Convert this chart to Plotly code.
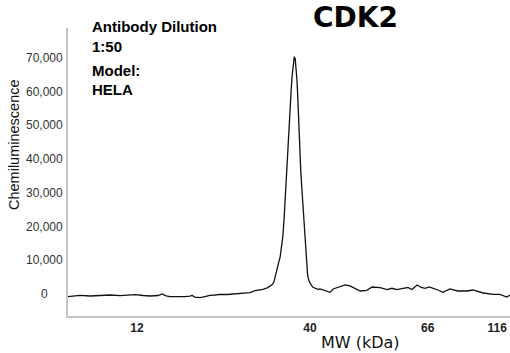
import plotly.graph_objects as go

# Relative migration position (% of lane length) and chemiluminescence signal
position = [0.0, 2.7, 5.0, 7.2, 9.5, 11.8, 13.5, 15.2, 17.0, 18.6, 20.4, 21.3, 22.2, 23.1,
            25.0, 26.5, 27.6, 28.1, 28.7, 29.9, 31.0, 32.1, 33.3, 34.4, 36.0, 37.3, 38.9,
            40.0, 41.2, 42.3, 43.2, 44.1, 45.2, 46.15, 46.6, 46.9, 47.3, 47.6, 48.0, 48.3,
            48.6, 48.9, 49.1, 49.3, 49.5, 49.8, 50.0, 50.2, 50.5, 50.7, 51.0, 51.2, 51.4,
            51.6, 51.8, 51.95, 52.1, 52.3, 52.5, 52.65, 52.85, 53.05, 53.25, 53.4, 53.6,
            53.85, 54.0, 54.2, 54.4, 54.75, 55.4, 56.6, 57.0, 58.1, 59.3, 60.0, 61.5, 62.7,
            63.8, 64.5, 66.1, 67.6, 68.8, 70.6, 72.2, 73.3, 74.4, 75.8, 76.9, 77.8, 79.0,
            79.9, 80.8, 81.7, 82.6, 83.7, 84.8, 86.4, 88.2, 90.3, 91.6, 93.9, 96.2, 97.7,
            99.3, 100.0]
signal = [-800, -400, -600, -500, -300, -500, -350, -200, -450, -600, -450, 0, -550, -800,
          -750, -800, -600, -400, -900, -1100, -750, -400, -300, -100, -150, 0, 50,
          200, 400, 1000, 1200, 1400, 1900, 2700, 3600, 5000, 7100, 9000, 11000, 14000,
          17000, 22500, 27500, 33000, 39000, 45500, 50500, 55000, 60700, 64500, 68500, 70400, 69800,
          67000, 63500, 59500, 53500, 45800, 41000, 36900, 32500, 28500, 24000, 20000, 15000,
          10500, 7800, 5800, 4400, 3200, 2000, 1400, 1490, 1040, 500, 1490, 2230, 2680,
          2380, 1870, 890, 1100, 2080, 1870, 1280, 1700, 1280, 1700, 1930, 1340, 2680,
          1930, 1700, 2080, 1700, 1190, 500, 1490, 890, 890, 1190, 300, -100, -100,
          -900, -300]

mw_labels = ["12", "40", "66", "116"]
mw_positions = [15.6, 54.75, 81.4, 97.1]

y_ticks = [0, 10000, 20000, 30000, 40000, 50000, 60000, 70000]
y_tick_labels = ["0", "10,000", "20,000", "30,000", "40,000", "50,000", "60,000", "70,000"]

info_lines = ["Antibody Dilution", "1:50", "Model:", "HELA"]

fig = go.Figure()
fig.add_trace(go.Scatter(x=position, y=signal, mode="lines",
                         line=dict(color="#111111", width=1.3), showlegend=False))

W, H = 510, 353
L, R, T, B = 68, 0, 28, 37
pw = W - L - R
ph = H - T - B

annotations = []
for v, t in zip(y_ticks, y_tick_labels):
    annotations.append(dict(x=-24 / pw, xref="paper", y=v, yref="y", text=t,
                            showarrow=False, xanchor="center", yanchor="middle",
                            font=dict(family="Liberation Sans, Arial", size=12, color="#333333")))

info_y = [27, 46, 70, 89]
for t, yy in zip(info_lines, info_y):
    annotations.append(dict(x=(90 - L) / pw, xref="paper", y=1 - (yy - T) / ph, yref="paper",
                            text="<b>" + t + "</b>", showarrow=False,
                            xanchor="left", yanchor="middle",
                            font=dict(family="Liberation Sans, Arial", size=15, color="#000000")))

annotations.append(dict(x=(355.5 - L) / pw, xref="paper", y=1 + T / ph, yref="paper",
                        text="<b>CDK2</b>", showarrow=False, xanchor="center", yanchor="top",
                        borderpad=0,
                        font=dict(family="DejaVu Sans", size=28, color="#000000")))

annotations.append(dict(x=(360 - L) / pw, xref="paper", y=1 - (342 - T) / ph, yref="paper",
                        text="MW (kDa)", showarrow=False, xanchor="center", yanchor="middle",
                        font=dict(family="DejaVu Sans", size=16, color="#111111")))

annotations.append(dict(x=(14 - L) / pw, xref="paper", y=1 - (145 - T) / ph, yref="paper",
                        text="Chemiluminescence", showarrow=False, textangle=-90,
                        xanchor="center", yanchor="middle",
                        font=dict(family="Liberation Sans, Arial", size=14.5, color="#111111")))

fig.update_layout(
    width=W, height=H,
    margin=dict(l=L, r=R, t=T, b=B),
    paper_bgcolor="white", plot_bgcolor="white",
    showlegend=False,
    annotations=annotations,
    xaxis=dict(range=[0, 100], showgrid=False, zeroline=False,
               showline=True, linecolor="#c4c4c4", linewidth=1.5,
               tickmode="array", tickvals=mw_positions,
               ticktext=["<b>" + t + "</b>" for t in mw_labels],
               ticks="", ticklen=0,
               tickfont=dict(family="Liberation Sans, Arial", size=12, color="#222222")),
    yaxis=dict(range=[-6525, 78900], showgrid=False, zeroline=False,
               showline=True, linecolor="#c4c4c4", linewidth=1.5,
               showticklabels=False, ticks="",
               tickvals=y_ticks),
)

fig.write_html("out.html")
